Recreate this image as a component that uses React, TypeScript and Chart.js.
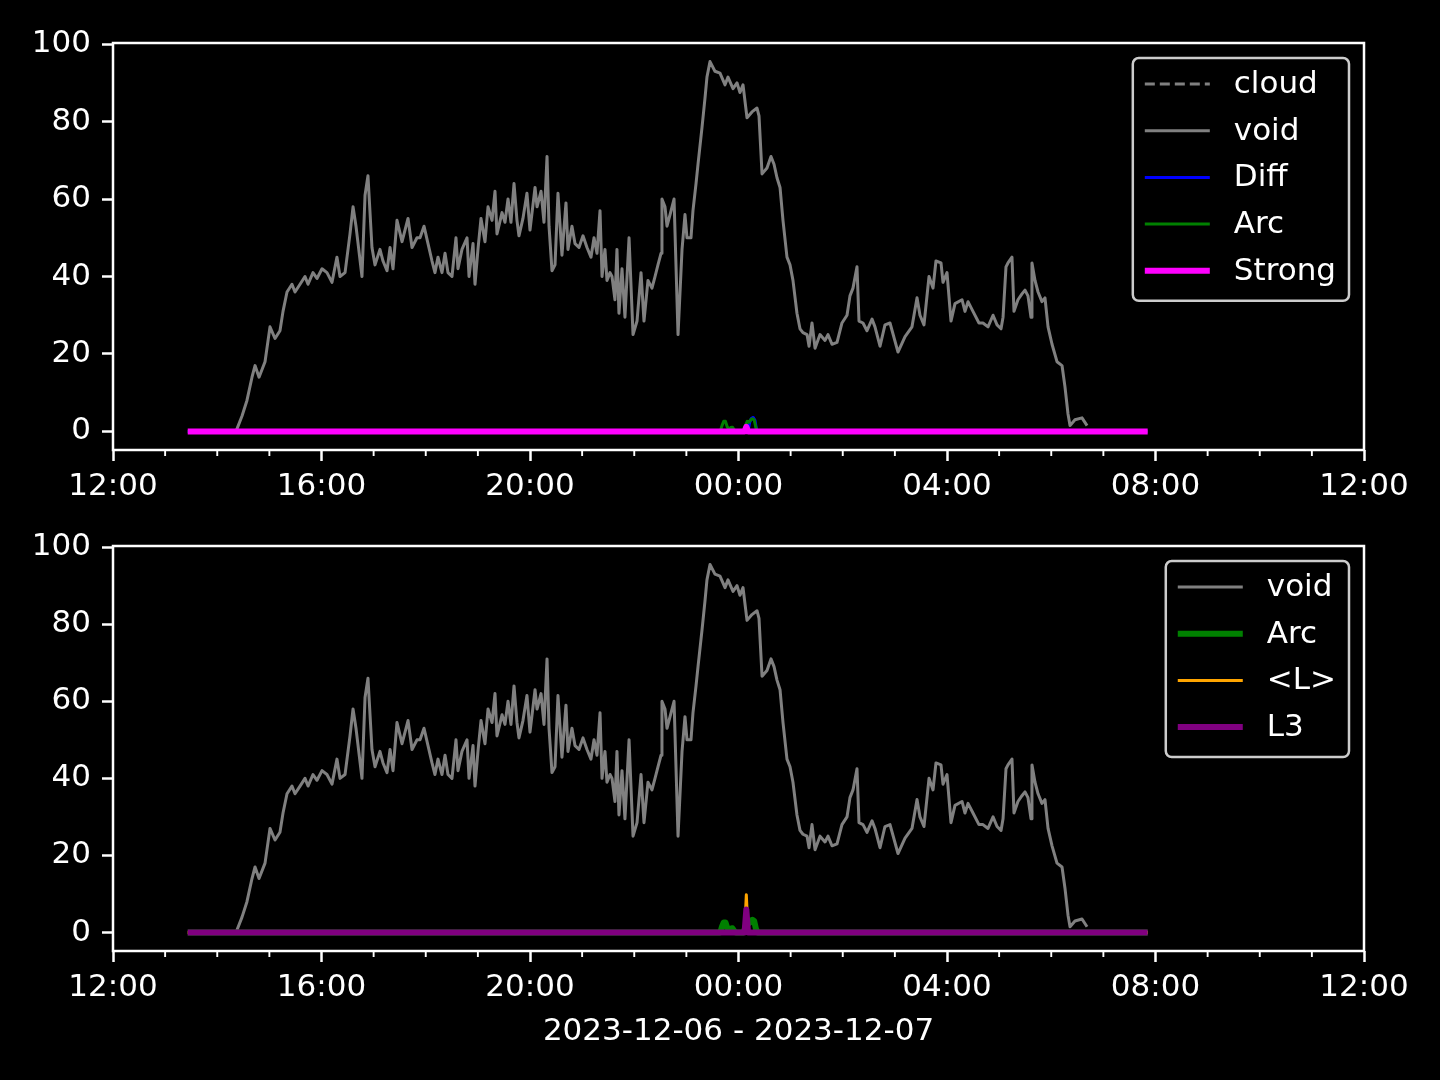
import React, { useEffect, useRef } from 'react';
import { Chart, registerables } from 'chart.js';

Chart.register(...registerables);

const FONT = "'DejaVu Sans', 'Liberation Sans', sans-serif";

// x values are minutes since 2023-12-06 12:00
const xTickMinutes = [0, 240, 480, 720, 960, 1200, 1440];
const xTickLabels = ['12:00', '16:00', '20:00', '00:00', '04:00', '08:00', '12:00'];
const xMinorMinutes = [60, 120, 180, 300, 360, 420, 540, 600, 660, 780, 840, 900, 1020, 1080, 1140, 1260, 1320, 1380];
const yTicks = [0, 20, 40, 60, 80, 100];
const Y_MIN = -4.8;
const Y_MAX = 100.3;
const xTitle = '2023-12-06 - 2023-12-07';

const voidMinutes = [
  141.6, 148.5, 154.2, 160.0, 163.5, 168.1, 175.0, 180.7, 186.5, 192.2, 195.7, 200.3, 206.0, 209.5, 215.3,
  221.0, 224.5, 230.2, 234.8, 240.6, 246.3, 252.1, 257.8, 261.3, 267.1, 272.8, 276.3, 279.7, 286.6, 290.1,
  293.5, 298.1, 301.6, 307.3, 310.8, 315.4, 318.9, 322.3, 326.9, 332.7, 339.6, 344.2, 349.9, 353.4, 358.0,
  362.6, 367.2, 370.6, 374.1, 378.7, 382.2, 385.6, 390.2, 394.8, 397.1, 401.7, 407.5, 409.8, 414.4, 416.7,
  420.1, 423.6, 428.2, 431.7, 436.3, 439.7, 442.0, 447.8, 451.2, 454.7, 458.1, 461.6, 465.0, 467.3, 471.9,
  476.5, 480.0, 485.8, 488.1, 492.7, 496.1, 499.6, 501.9, 505.3, 508.8, 512.2, 516.8, 521.4, 523.7, 528.3,
  531.8, 536.4, 541.0, 545.6, 550.2, 553.7, 557.1, 560.6, 562.9, 566.3, 568.6, 572.1, 574.4, 577.8, 580.1,
  582.4, 585.9, 589.3, 594.0, 598.6, 603.2, 607.8, 611.2, 615.8, 620.4, 623.9, 627.3, 630.8, 631.9, 635.4,
  637.7, 641.2, 645.8, 650.4, 655.0, 658.4, 660.7, 665.3, 667.6, 671.1, 673.4, 678.0, 681.4, 683.7, 687.2,
  692.9, 698.7, 704.5, 707.9, 713.7, 718.3, 721.7, 725.2, 729.8, 735.5, 741.3, 743.6, 747.1, 752.8, 757.4,
  760.9, 764.3, 767.8, 771.2, 775.8, 779.3, 782.7, 787.3, 790.8, 794.2, 798.9, 801.2, 804.6, 808.1, 813.8,
  819.6, 823.0, 827.6, 833.4, 839.1, 844.9, 848.3, 851.8, 856.4, 858.7, 863.3, 867.9, 873.7, 877.1, 882.9,
  888.6, 894.4, 903.6, 911.7, 919.7, 925.5, 928.9, 933.5, 939.3, 943.9, 947.3, 953.1, 955.4, 960.0, 964.6,
  969.2, 977.3, 980.7, 984.2, 989.9, 996.8, 1001.4, 1007.2, 1013.0, 1017.6, 1022.2, 1024.5, 1027.9, 1030.2, 1034.8,
  1037.1, 1041.7, 1046.3, 1049.8, 1053.2, 1056.7, 1057.8, 1061.3, 1064.8, 1069.3, 1072.8, 1076.3, 1080.9, 1086.6, 1092.4,
  1095.8, 1099.3, 1101.6, 1107.3, 1115.4, 1121.2,
];
const voidValues = [
  0, 4, 8, 14, 17, 14, 18, 27, 24, 26, 31, 36, 38, 36, 38,
  40, 38, 41, 39.5, 42, 41, 38.5, 45, 40, 41, 51, 58, 53, 40, 61,
  66, 47.5, 43, 47, 44, 41.5, 47.5, 42, 54.5, 49, 55, 47.5, 50, 50, 53,
  48.5, 44, 41, 45, 41, 46, 41, 40, 50, 42, 47, 50, 40, 48.5, 38,
  47, 55, 49, 58, 54.5, 62, 51, 56.5, 54, 60, 54, 64, 54.5, 50.5, 55,
  61.5, 52, 63, 58, 62, 54, 71, 53, 41.5, 43, 61.5, 45.5, 59, 47, 53,
  48.5, 47.5, 50.5, 47.5, 45, 50, 46, 57, 40, 47, 39, 41, 40, 34, 47,
  30.5, 42, 29.5, 50, 25, 28.5, 41, 28.5, 39, 37, 40, 43, 46, 60, 58,
  53, 56, 60, 25, 47, 56, 50, 50, 57, 64, 69, 78.5, 86, 91.5, 95.5,
  93, 92.5, 89.5, 91.5, 88.5, 90, 87.5, 89.5, 81, 82.5, 83.5, 81.5, 66.5, 68, 71,
  69, 65.5, 63, 54.5, 45, 43, 39, 30.5, 26.5, 25.5, 25, 22, 28, 21.5, 25,
  23.5, 25, 22.5, 23, 28, 30, 35, 37, 42.5, 28.5, 28, 26, 29, 27, 22,
  27.5, 28, 20.5, 24.5, 27, 34.5, 30, 27.5, 40, 37, 44, 43.5, 38.5, 41, 28.5,
  33, 34, 31, 33.5, 31, 28, 28, 27, 30, 27.5, 26.5, 29.5, 42.5, 43.5, 45,
  31, 34, 35.5, 36.5, 35, 29.5, 43.5, 39, 36, 33.5, 34.5, 27, 22.5, 18, 17,
  11.5, 4.5, 1.5, 3, 3.5, 1.5,
];

const cloudMinutes: number[] = [];
const cloudValues: number[] = [];

const diffMinutes = [86, 731, 733, 735, 737, 739, 741, 1191];
const diffValues = [0, 0, 2.5, 3.4, 3.6, 2.8, 0, 0];

const arcMinutes = [86, 699, 701, 703, 705, 707, 709, 711, 713, 715, 717, 726, 728, 730, 732, 734, 736, 738, 740, 742, 1191];
const arcValues = [0, 0, 1.5, 2.6, 2.6, 1.2, 0.6, 1.0, 1.1, 0.4, 0, 0, 1.5, 2.6, 2.4, 3.0, 3.3, 3.0, 1.0, 0, 0];

const strongMinutes = [86, 727, 729, 731, 1191];
const strongValues = [0, 0, 1.2, 0, 0];

const meanLMinutes = [86, 727, 729, 731, 1191];
const meanLValues = [0, 0, 9.8, 0, 0];

const l3Minutes = [86, 727, 729, 731, 1191];
const l3Values = [0, 0, 6, 0, 0];

function pts(xs: number[], ys: number[]) {
  return xs.map((x, i) => ({ x, y: ys[i] }));
}

const framePlugin = {
  id: 'mplFrame',
  afterDraw(chart: any) {
    const { ctx, chartArea } = chart;
    const xs = chart.scales.x;
    ctx.save();
    ctx.strokeStyle = '#ffffff';
    ctx.lineWidth = 1.9;
    xMinorMinutes.forEach((m) => {
      const px = xs.getPixelForValue(m);
      ctx.beginPath();
      ctx.moveTo(px, chartArea.bottom);
      ctx.lineTo(px, chartArea.bottom + 6);
      ctx.stroke();
    });
    ctx.lineWidth = 2.5;
    ctx.strokeRect(chartArea.left, chartArea.top, chartArea.right - chartArea.left, chartArea.bottom - chartArea.top);
    ctx.restore();
  },
};

const legendPlugin = {
  id: 'mplLegend',
  afterDraw(chart: any) {
    const { ctx, chartArea } = chart;
    const ds = chart.data.datasets;
    ctx.save();
    ctx.font = `31px ${FONT}`;
    const maxW = Math.max(...ds.map((d: any) => ctx.measureText(d.label).width));
    const rowH = 46.7;
    const w = 12 + 65 + 24 + maxW + 13;
    const h = 26 + (ds.length - 1) * rowH + 30;
    const right = chartArea.right - 15;
    const top = chartArea.top + 15;
    const left = right - w;
    ctx.beginPath();
    ctx.roundRect(left, top, w, h, 6);
    ctx.fillStyle = 'rgba(0,0,0,0.8)';
    ctx.fill();
    ctx.strokeStyle = 'rgba(255,255,255,0.8)';
    ctx.lineWidth = 2.5;
    ctx.stroke();
    ds.forEach((d: any, i: number) => {
      const y = top + 26 + i * rowH;
      ctx.beginPath();
      ctx.setLineDash(d.borderDash || []);
      ctx.strokeStyle = d.borderColor;
      ctx.lineWidth = d.borderWidth;
      ctx.moveTo(left + 12, y);
      ctx.lineTo(left + 77, y);
      ctx.stroke();
      ctx.setLineDash([]);
      ctx.fillStyle = '#ffffff';
      ctx.textBaseline = 'middle';
      ctx.textAlign = 'left';
      ctx.fillText(d.label, left + 101, y + 1);
    });
    ctx.restore();
  },
};

function buildOptions(showTitle: boolean, padTop: number, xHeight: number): any {
  const tickFont = { family: FONT, size: 31 };
  const grid = {
    display: true,
    drawOnChartArea: false,
    drawTicks: true,
    tickLength: 11,
    tickWidth: 2.5,
    tickColor: '#ffffff',
    color: '#ffffff',
  };
  return {
    responsive: false,
    animation: false,
    devicePixelRatio: 1,
    layout: { padding: { top: padTop, right: 76, left: 0, bottom: 0 } },
    plugins: {
      legend: { display: false },
      tooltip: { enabled: false },
      title: { display: false },
    },
    elements: { point: { radius: 0 }, line: { tension: 0 } },
    scales: {
      x: {
        type: 'linear',
        min: 0,
        max: 1440,
        afterBuildTicks: (s: any) => {
          s.ticks = xTickMinutes.map((v) => ({ value: v }));
        },
        afterFit: (s: any) => {
          s.height = xHeight;
        },
        ticks: {
          color: '#ffffff',
          font: tickFont,
          padding: 7,
          maxRotation: 0,
          autoSkip: false,
          callback: (_v: any, i: number) => xTickLabels[i],
        },
        grid,
        border: { display: false },
        title: {
          display: showTitle,
          text: xTitle,
          color: '#ffffff',
          font: tickFont,
          padding: { top: 0, bottom: 29 },
        },
      },
      y: {
        type: 'linear',
        min: Y_MIN,
        max: Y_MAX,
        afterBuildTicks: (s: any) => {
          s.ticks = yTicks.map((v) => ({ value: v }));
        },
        afterFit: (s: any) => {
          s.width = 113;
        },
        ticks: {
          color: '#ffffff',
          font: tickFont,
          padding: 11,
          callback: (v: any) => String(v),
        },
        grid,
        border: { display: false },
      },
    },
  };
}

function line(label: string, xs: number[], ys: number[], color: string, width: number, order: number, dash?: number[]) {
  return {
    label,
    data: pts(xs, ys),
    borderColor: color,
    backgroundColor: color,
    borderWidth: width,
    borderDash: dash || [],
    borderJoinStyle: 'round',
    fill: false,
    pointRadius: 0,
    order,
  };
}

export default function App() {
  const topRef = useRef<HTMLCanvasElement | null>(null);
  const botRef = useRef<HTMLCanvasElement | null>(null);

  useEffect(() => {
    const topChart = new Chart(topRef.current as HTMLCanvasElement, {
      type: 'line',
      data: {
        datasets: [
          line('cloud', cloudMinutes, cloudValues, '#808080', 3, 5, [10, 5]),
          line('void', voidMinutes, voidValues, '#808080', 3, 4),
          line('Diff', diffMinutes, diffValues, '#0000ff', 3, 3),
          line('Arc', arcMinutes, arcValues, '#008000', 3, 2),
          line('Strong', strongMinutes, strongValues, '#ff00ff', 6, 1),
        ] as any,
      },
      options: buildOptions(false, 43, 90),
      plugins: [framePlugin, legendPlugin],
    });
    const botChart = new Chart(botRef.current as HTMLCanvasElement, {
      type: 'line',
      data: {
        datasets: [
          line('void', voidMinutes, voidValues, '#808080', 3, 4),
          line('Arc', arcMinutes, arcValues, '#008000', 6, 3),
          line('<L>', meanLMinutes, meanLValues, '#ffa500', 3, 2),
          line('L3', l3Minutes, l3Values, '#800080', 6, 1),
        ] as any,
      },
      options: buildOptions(true, 46, 129),
      plugins: [framePlugin, legendPlugin],
    });
    return () => {
      topChart.destroy();
      botChart.destroy();
    };
  }, []);

  return (
    <div style={{ position: 'fixed', left: 0, top: 0, width: 1440, height: 1080, background: '#000000' }}>
      <canvas ref={topRef} width={1440} height={540} style={{ position: 'absolute', left: 0, top: 0, width: 1440, height: 540 }} />
      <canvas ref={botRef} width={1440} height={580} style={{ position: 'absolute', left: 0, top: 500, width: 1440, height: 580 }} />
    </div>
  );
}
